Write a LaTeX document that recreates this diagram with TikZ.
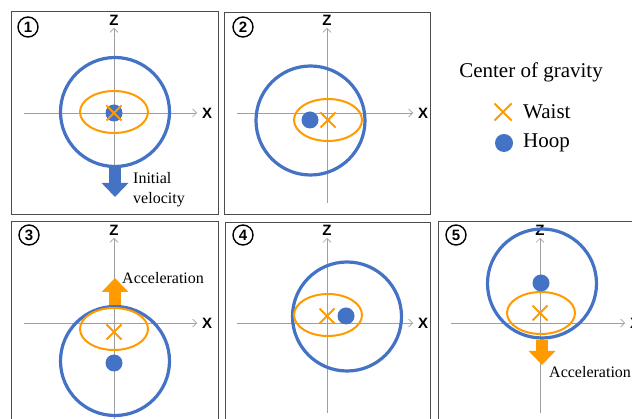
\documentclass[tikz,border=0pt]{standalone}
\usepackage{fontspec}
\setmainfont{Liberation Serif}
\setsansfont{Liberation Sans}
\usepackage{tikz}
\usetikzlibrary{shapes.geometric, shapes.misc, arrows.meta, positioning}
\definecolor{hoopblue}{HTML}{4472C4}
\definecolor{waistorange}{HTML}{FF9A00}

\begin{document}
\begin{tikzpicture}[
    x=1pt, y=-1pt,
    panel/.style={draw=black!70, line width=0.9pt},
    axis/.style={draw=gray!75, line width=0.6pt, -{Straight Barb[length=4pt, width=8pt]}},
    axlbl/.style={font=\sffamily\bfseries\fontsize{15}{15}\selectfont, inner sep=0pt},
    numlbl/.style={circle, draw, line width=1.4pt, minimum size=20pt, inner sep=0pt, font=\sffamily\bfseries\fontsize{15}{15}\selectfont},
    hoopring/.style={circle, draw=hoopblue, line width=3.2pt, minimum size=109pt, inner sep=0pt},
    waistring/.style={ellipse, draw=waistorange, line width=2pt, minimum width=68pt, minimum height=42pt, inner sep=0pt},
    hoopcg/.style={circle, fill=hoopblue, minimum size=17pt, inner sep=0pt},
    waistcg/.style={cross out, draw=waistorange, line width=2pt, minimum size=13pt, inner sep=0pt},
    bigarrow/.style={line width=12pt, -{Triangle[width=26pt, length=14pt]}},
    txt/.style={font=\fontsize{16}{20}\selectfont, align=left, inner sep=0pt},
    lgtxt/.style={font=\fontsize{21}{24}\selectfont, inner sep=0pt},
]
    \useasboundingbox (0,0) rectangle (632,419);
    \clip (0,0) rectangle (632,419);

    % Panel 1
    \draw[panel] (11,11) rectangle (218,214);
    \node[numlbl] (n1) at (28,27) {1};
    \coordinate (xl1) at (24,113);
    \coordinate (xr1) at (197,113);
    \coordinate (zb1) at (114,195);
    \coordinate (zt1) at (114,28);
    \draw[axis] (xl1) -- (xr1);
    \draw[axis] (zb1) -- (zt1);
    \node[axlbl, right=5pt of xr1] (x1) {X};
    \node[axlbl, above=2pt of zt1] (z1) {Z};
    \node[hoopring] (hoop1) at (115,112) {};
    \node[waistring] (waist1) at (114,112) {};
    \node[hoopcg] (hc1) at (114,113) {};
    \node[waistcg] (wc1) at (114,113) {};
    \coordinate (v1) at (115,197);
    \draw[bigarrow, hoopblue] (hoop1.south) -- (v1);
    \node[txt, anchor=west] (vel) at (133,190) {Initial\\velocity};

    % Panel 2
    \draw[panel] (224,12) rectangle (430,214);
    \node[numlbl] (n2) at (243,27) {2};
    \coordinate (xl2) at (237,113);
    \coordinate (xr2) at (413,113);
    \coordinate (zb2) at (327,203);
    \coordinate (zt2) at (327,28);
    \draw[axis] (xl2) -- (xr2);
    \draw[axis] (zb2) -- (zt2);
    \node[axlbl, right=5pt of xr2] (x2) {X};
    \node[axlbl, above=2pt of zt2] (z2) {Z};
    \node[hoopring] (hoop2) at (310.5,120.5) {};
    \node[waistring] (waist2) at (328,120) {};
    \node[hoopcg] (hc2) at (310,120) {};
    \node[waistcg] (wc2) at (328,120) {};

    % Panel 3
    \draw[panel] (11,221) rectangle (218,440);
    \node[numlbl] (n3) at (29,235) {3};
    \coordinate (xl3) at (24,323);
    \coordinate (xr3) at (197,323);
    \coordinate (zb3) at (114,425);
    \coordinate (zt3) at (114,238);
    \draw[axis] (xl3) -- (xr3);
    \draw[axis] (zb3) -- (zt3);
    \node[axlbl, right=5pt of xr3] (x3) {X};
    \node[axlbl, above=2pt of zt3] (z3) {Z};
    \node[hoopring] (hoop3) at (115,361) {};
    \node[waistring] (waist3) at (114,329) {};
    \node[hoopcg] (hc3) at (114,363) {};
    \node[waistcg] (wc3) at (114,332) {};
    \coordinate (a3) at (115,278);
    \draw[bigarrow, waistorange] (hoop3.north) -- (a3);
    \node[txt, anchor=west] (acc3) at (122,278) {Acceleration};

    % Panel 4
    \draw[panel] (225,222) rectangle (430,440);
    \node[numlbl] (n4) at (243,235) {4};
    \coordinate (xl4) at (237,323);
    \coordinate (xr4) at (413,323);
    \coordinate (zb4) at (327,413);
    \coordinate (zt4) at (327,238);
    \draw[axis] (xl4) -- (xr4);
    \draw[axis] (zb4) -- (zt4);
    \node[axlbl, right=5pt of xr4] (x4) {X};
    \node[axlbl, above=2pt of zt4] (z4) {Z};
    \node[hoopring] (hoop4) at (347,316.5) {};
    \node[waistring] (waist4) at (328,315) {};
    \node[hoopcg] (hc4) at (346,316) {};
    \node[waistcg] (wc4) at (327,316) {};

    % Panel 5
    \draw[panel] (438,221) rectangle (645,440);
    \node[numlbl] (n5) at (456,235) {5};
    \coordinate (xl5) at (451,323);
    \coordinate (xr5) at (625,323);
    \coordinate (zb5) at (540,413);
    \coordinate (zt5) at (540,238);
    \draw[axis] (xl5) -- (xr5);
    \draw[axis] (zb5) -- (zt5);
    \node[axlbl, right=5pt of xr5] (x5) {X};
    \node[axlbl, above=2pt of zt5] (z5) {Z};
    \node[hoopring] (hoop5) at (542,283.5) {};
    \node[waistring] (waist5) at (541,313) {};
    \node[hoopcg] (hc5) at (541,283) {};
    \node[waistcg] (wc5) at (540,313) {};
    \coordinate (a5) at (542,365);
    \draw[bigarrow, waistorange] (hoop5.south) -- (a5);
    \node[txt, anchor=west] (acc5) at (549,372) {Acceleration};

    % Legend
    \node[lgtxt] (cog) at (531,72) {Center of gravity};
    \node[waistcg, minimum size=15pt] (lw) at (503,112) {};
    \node[lgtxt, anchor=west] (lwt) at (523,112) {Waist};
    \node[hoopcg, minimum size=18pt] (lh) at (504,143) {};
    \node[lgtxt, anchor=west] (lht) at (523,143) {Hoop};

\end{tikzpicture}
\end{document}
